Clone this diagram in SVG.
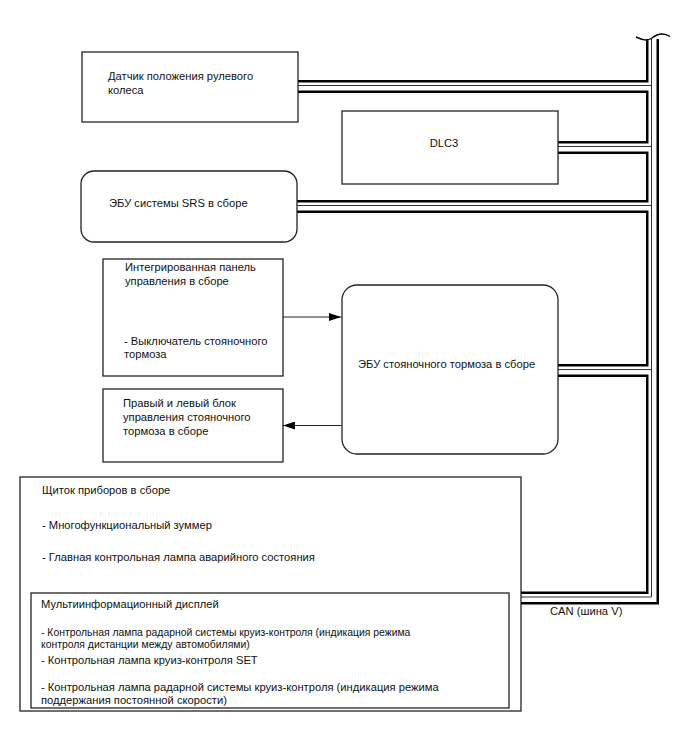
<svg xmlns="http://www.w3.org/2000/svg" width="688" height="755" viewBox="0 0 688 755">
<defs>
<style>
.box{fill:#fff;stroke:#222;stroke-width:1.3}
.t{font-family:"Liberation Sans",Arial,sans-serif;font-size:11.2px;fill:#111}
.s{font-size:10.4px}
.b1{fill:none;stroke:#000;stroke-width:13;stroke-linejoin:miter}
.b2{fill:none;stroke:#fff;stroke-width:8;stroke-linejoin:miter}
.b3{fill:none;stroke:#333;stroke-width:1;stroke-linejoin:miter}
.arr{fill:none;stroke:#222;stroke-width:1.2}
</style>
<marker id="ah" viewBox="0 0 12 8" refX="12" refY="4" markerWidth="12" markerHeight="8" markerUnits="userSpaceOnUse" orient="auto">
<path d="M0,0 L12,4 L0,8 Z" fill="#000"/>
</marker>
</defs>
<rect width="688" height="755" fill="#fff"/>

<g id="connectors">
<g id="can-bus">
<path class="b1" d="M652.5,38 V598 H521 M298,86.5 H652.5 M558,147.5 H652.5 M297,206.5 H652.5 M558,370.5 H652.5"/>
<path class="b2" d="M652.5,38 V598 H521 M298,86.5 H652.5 M558,147.5 H652.5 M297,206.5 H652.5 M558,370.5 H652.5"/>
<path class="b3" d="M651.5,38 V597 H521 M298,85.5 H651.5 M558,146.5 H651.5 M297,205.5 H651.5 M558,369.5 H651.5"/>
<path d="M644,36 L661,36 L661,39 L644,39 Z" fill="#fff"/>
<path d="M636,37 C641,39 646,42 652,38 C657,34 663,32 670,36.5" fill="none" stroke="#000" stroke-width="1.4"/>
</g>
<path class="arr" d="M283,317 H341" marker-end="url(#ah)"/>
<path class="arr" d="M341.5,425.5 H283" marker-end="url(#ah)"/>
</g>

<g id="steering-sensor">
<rect class="box" x="82" y="52" width="216" height="70"/>
<text class="t" x="108" y="80">Датчик положения рулевого</text>
<text class="t" x="108" y="94">колеса</text>
</g>

<g id="dlc3">
<rect class="box" x="342" y="111" width="216" height="73"/>
<text class="t" x="444" y="147" text-anchor="middle">DLC3</text>
</g>

<g id="srs-ecu">
<rect class="box" x="81" y="171" width="216" height="71" rx="13"/>
<text class="t" x="109" y="207">ЭБУ системы SRS в сборе</text>
</g>

<g id="integrated-panel">
<rect class="box" x="103" y="259" width="180" height="117"/>
<text class="t" x="125" y="271">Интегрированная панель</text>
<text class="t" x="125" y="285">управления в сборе</text>
<text class="t" x="124" y="345">- Выключатель стояночного</text>
<text class="t" x="124" y="358">тормоза</text>
</g>

<g id="parking-brake-ecu">
<rect class="box" x="342" y="285" width="216" height="169" rx="15"/>
<text class="t" x="358" y="368">ЭБУ стояночного тормоза в сборе</text>
</g>

<g id="brake-actuators">
<rect class="box" x="103" y="389" width="180" height="73"/>
<text class="t" x="123" y="407">Правый и левый блок</text>
<text class="t" x="123" y="421">управления стояночного</text>
<text class="t" x="123" y="435">тормоза в сборе</text>
</g>

<g id="combination-meter">
<rect class="box" x="20" y="477" width="501" height="234"/>
<text class="t" x="42" y="494">Щиток приборов в сборе</text>
<text class="t" x="42" y="529">- Многофункциональный зуммер</text>
<text class="t" x="42" y="561">- Главная контрольная лампа аварийного состояния</text>
</g>

<g id="multi-display">
<rect class="box" x="31" y="593" width="478" height="115"/>
<text class="t" x="41" y="608">Мультиинформационный дисплей</text>
<text class="t s" x="41" y="636">- Контрольная лампа радарной системы круиз-контроля (индикация режима</text>
<text class="t s" x="41" y="648">контроля дистанции между автомобилями)</text>
<text class="t" x="41" y="664">- Контрольная лампа круиз-контроля SET</text>
<text class="t" x="41" y="691">- Контрольная лампа радарной системы круиз-контроля (индикация режима</text>
<text class="t" x="41" y="704">поддержания постоянной скорости)</text>
</g>

<g id="can-label">
<text class="t" x="550" y="615">CAN (шина V)</text>
</g>
</svg>
